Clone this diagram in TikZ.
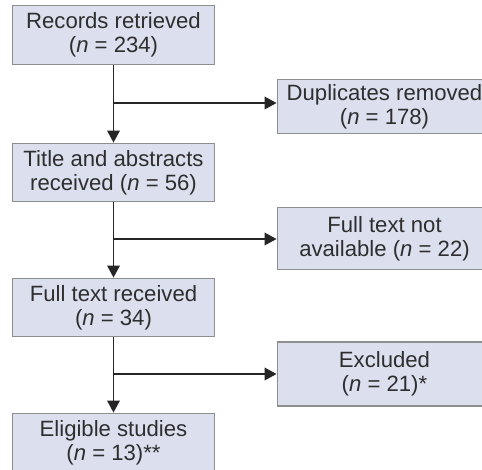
\documentclass[tikz,border=0pt]{standalone}
\usepackage{fontspec}
\setmainfont{Liberation Sans}
\usetikzlibrary{arrows.meta,positioning}
\definecolor{boxfill}{HTML}{DCDFEE}
\definecolor{boxline}{HTML}{8E8E8E}
\definecolor{txt}{HTML}{2E2E2E}
\tikzset{
  stepInode/.style = {align=center, inner sep=2pt, text centered,
    font=\fontsize{16.6}{18}\selectfont, text=txt},
  mainbox/.style = {stepInode, rectangle, draw=boxline, line width=0.9pt,
    fill=boxfill, minimum width=151pt, minimum height=44pt},
  sidebox/.style = {stepInode, rectangle, draw=boxline, line width=0.9pt,
    fill=boxfill, minimum width=161pt}
    % main chain on the left, removed records on the right
}

\begin{document}
\begin{tikzpicture}[x=0.75pt,y=-0.75pt,>={Triangle[length=9pt,width=9.5pt]},
  flow/.style={->, line width=1pt, black!85}]
\useasboundingbox (0,0) rectangle (482,470);
\node[mainbox] (rec) at (113.5,35) {Records retrieved\\(\textit{n} = 234)};
\node[mainbox] (tit) at (113.5,172.5) {Title and abstracts\\received (\textit{n} = 56)};
\node[mainbox] (ful) at (113.5,307.5) {Full text received\\(\textit{n} = 34)};
\node[mainbox] (eli) at (113.5,442.5) {Eligible studies\\(\textit{n} = 13)**};

\node[sidebox, minimum height=41pt] (dup) at (384.5,106.5) {Duplicates removed\\(\textit{n} = 178)};
\node[sidebox, minimum height=47pt] (nav) at (384.5,238.5) {Full text not\\available (\textit{n} = 22)};
\node[sidebox, minimum height=48pt] (exc) at (384.5,374) {Excluded\\(\textit{n} = 21)*};

\coordinate (b1) at (114,103);
\coordinate (b2) at (114,239);
\coordinate (b3) at (114,374);

\draw[flow] (rec) -- (tit);
\draw[flow] (tit) -- (ful);
\draw[flow] (ful) -- (eli);
\draw[flow] (b1) -- (dup.west |- b1);
\draw[flow] (b2) -- (nav.west |- b2);
\draw[flow] (b3) -- (exc.west |- b3);
\end{tikzpicture}
\end{document}
